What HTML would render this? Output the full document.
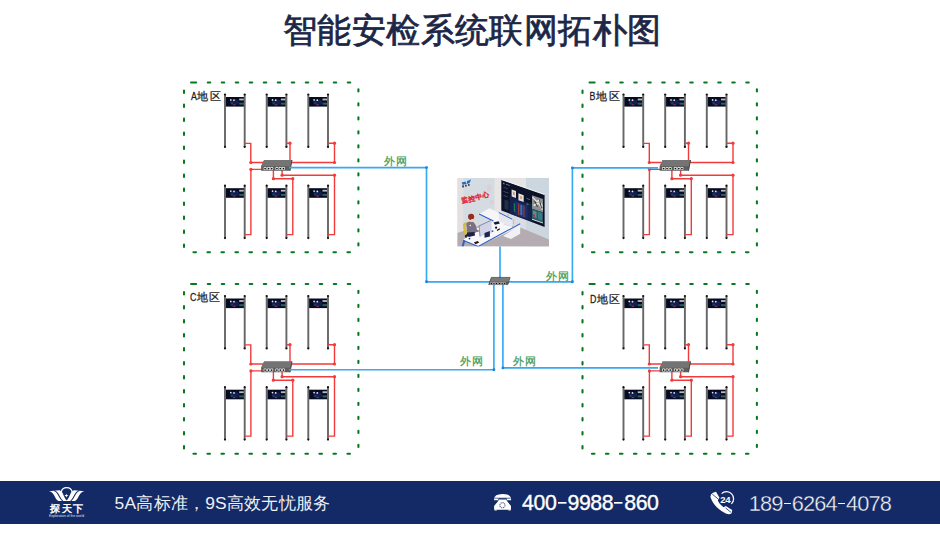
<!DOCTYPE html>
<html><head><meta charset="utf-8">
<style>
html,body{margin:0;padding:0;}
body{width:940px;height:537px;overflow:hidden;background:#fff;position:relative;font-family:"Liberation Sans",sans-serif;}
.title{position:absolute;left:2.2px;width:940px;top:5.7px;text-align:center;font-size:34px;font-weight:normal;-webkit-text-stroke:0.75px #1c2747;color:#1c2747;letter-spacing:0.4px;line-height:48px;}
svg{position:absolute;left:0;top:0;}
.zl{font-size:11px;fill:#1a1a1a;stroke:#1a1a1a;stroke-width:0.25px;font-family:"Liberation Sans",sans-serif;}
.ww{font-size:11px;fill:#3c9852;stroke:#3c9852;stroke-width:0.2px;font-family:"Liberation Sans",sans-serif;}
.foot{position:absolute;left:0;top:481px;width:940px;height:42.5px;background:#132a66;}
.slogan{position:absolute;left:114.6px;top:491.4px;font-size:17.4px;letter-spacing:0.22px;color:#eef0f5;line-height:24px;white-space:nowrap;}
.ph1{position:absolute;left:522.1px;top:491px;font-size:21.3px;letter-spacing:-0.4px;color:#fff;line-height:24px;-webkit-text-stroke:0.35px #fff;white-space:nowrap;}
.ph2{position:absolute;left:748.8px;top:491.6px;font-size:21.8px;letter-spacing:-0.87px;-webkit-text-stroke:0.35px #132a66;color:#f2f3f7;line-height:24px;white-space:nowrap;}
.d{display:inline-block;width:11px;height:24px;vertical-align:top;background:linear-gradient(#fff,#fff) no-repeat center 11.4px/8.5px 1.7px;}
.d2{display:inline-block;width:9.2px;height:24px;vertical-align:top;background:linear-gradient(#f2f3f7,#f2f3f7) no-repeat center 11.6px/7px 1.2px;}
</style></head><body>
<div class="title">智能安检系统联网拓朴图</div>
<svg width="940" height="537" viewBox="0 0 940 537">
<path d="M191.05 82.5H196.15M207.75 82.5H210.25M221.75 82.5H224.25M235.75 82.5H238.25M249.75 82.5H252.25M263.75 82.5H266.25M277.75 82.5H280.25M291.75 82.5H294.25M305.75 82.5H308.25M319.75 82.5H322.25M333.75 82.5H336.25M347.75 82.5H350.25M184 90.65V92.95M184 104.65V106.95M184 118.65V120.95M184 132.65V134.95M184 146.65V148.95M184 160.65V162.95M184 174.65V176.95M184 188.65V190.95M184 202.65V204.95M184 216.65V218.95M184 230.65V232.95M184 244.65V246.95M358.4 89.25V91.55M358.4 103.25V105.55M358.4 117.25V119.55M358.4 131.25V133.55M358.4 145.25V147.55M358.4 159.25V161.55M358.4 173.25V175.55M358.4 187.25V189.55M358.4 201.25V203.55M358.4 215.25V217.55M358.4 229.25V231.55M358.4 243.25V245.55M193.45 252.3H195.95M207.45 252.3H209.95M221.45 252.3H223.95M235.45 252.3H237.95M249.45 252.3H251.95M263.45 252.3H265.95M277.45 252.3H279.95M291.45 252.3H293.95M305.45 252.3H307.95M319.45 252.3H321.95M333.45 252.3H335.95M347.45 252.3H349.95" stroke="#077a1e" stroke-width="2.1" fill="none" stroke-linecap="round"/>
<text transform="translate(191.00,99.60) scale(0.8,1)" class="zl">A</text>
<text x="197.40" y="99.60" class="zl">地</text>
<text x="210.00" y="99.60" class="zl">区</text>
<rect x="225.6" y="97.0" width="18.49999999999999" height="9.6" fill="#070b22"/><ellipse cx="234.5" cy="102.3" rx="4.5" ry="3" fill="#1a3585" opacity="0.5"/><rect x="239.2" y="98.6" width="4.6" height="1.8" fill="#d8dcd8" opacity="0.85"/><rect x="239.2" y="102.7" width="4.6" height="2" fill="#2f6a62" opacity="0.9"/><rect x="231" y="102.3" width="2" height="2" fill="#1f5a5a" opacity="0.6"/><circle cx="230.8" cy="99.89999999999999" r="0.85" fill="#f6e6cc"/><circle cx="234" cy="100.2" r="0.85" fill="#f6e6cc"/><rect x="233.2" y="104.3" width="2.2" height="1.1" fill="#b02436"/><path d="M225 94.3V146.9M244.7 94.3V146.9" stroke="#666" stroke-width="1.9"/><circle cx="225" cy="94.5" r="1.1" fill="#111"/><circle cx="244.7" cy="94.5" r="1.1" fill="#111"/><circle cx="225" cy="146.9" r="1.1" fill="#111"/><circle cx="244.7" cy="146.9" r="1.1" fill="#111"/>
<rect x="267.3" y="97.0" width="18.49999999999999" height="9.6" fill="#070b22"/><ellipse cx="276.2" cy="102.3" rx="4.5" ry="3" fill="#1a3585" opacity="0.5"/><rect x="280.9" y="98.6" width="4.6" height="1.8" fill="#d8dcd8" opacity="0.85"/><rect x="280.9" y="102.7" width="4.6" height="2" fill="#2f6a62" opacity="0.9"/><rect x="272.7" y="102.3" width="2" height="2" fill="#1f5a5a" opacity="0.6"/><circle cx="272.5" cy="99.89999999999999" r="0.85" fill="#f6e6cc"/><circle cx="275.7" cy="100.2" r="0.85" fill="#f6e6cc"/><rect x="274.9" y="104.3" width="2.2" height="1.1" fill="#b02436"/><path d="M266.7 94.3V146.9M286.4 94.3V146.9" stroke="#666" stroke-width="1.9"/><circle cx="266.7" cy="94.5" r="1.1" fill="#111"/><circle cx="286.4" cy="94.5" r="1.1" fill="#111"/><circle cx="266.7" cy="146.9" r="1.1" fill="#111"/><circle cx="286.4" cy="146.9" r="1.1" fill="#111"/>
<rect x="308.90000000000003" y="97.0" width="18.49999999999999" height="9.6" fill="#070b22"/><ellipse cx="317.8" cy="102.3" rx="4.5" ry="3" fill="#1a3585" opacity="0.5"/><rect x="322.5" y="98.6" width="4.6" height="1.8" fill="#d8dcd8" opacity="0.85"/><rect x="322.5" y="102.7" width="4.6" height="2" fill="#2f6a62" opacity="0.9"/><rect x="314.3" y="102.3" width="2" height="2" fill="#1f5a5a" opacity="0.6"/><circle cx="314.1" cy="99.89999999999999" r="0.85" fill="#f6e6cc"/><circle cx="317.3" cy="100.2" r="0.85" fill="#f6e6cc"/><rect x="316.5" y="104.3" width="2.2" height="1.1" fill="#b02436"/><path d="M308.3 94.3V146.9M328.0 94.3V146.9" stroke="#666" stroke-width="1.9"/><circle cx="308.3" cy="94.5" r="1.1" fill="#111"/><circle cx="328.0" cy="94.5" r="1.1" fill="#111"/><circle cx="308.3" cy="146.9" r="1.1" fill="#111"/><circle cx="328.0" cy="146.9" r="1.1" fill="#111"/>
<rect x="225.6" y="188.2" width="18.49999999999999" height="9.6" fill="#070b22"/><ellipse cx="234.5" cy="193.5" rx="4.5" ry="3" fill="#1a3585" opacity="0.5"/><rect x="239.2" y="189.8" width="4.6" height="1.8" fill="#d8dcd8" opacity="0.85"/><rect x="239.2" y="193.9" width="4.6" height="2" fill="#2f6a62" opacity="0.9"/><rect x="231" y="193.5" width="2" height="2" fill="#1f5a5a" opacity="0.6"/><circle cx="230.8" cy="191.1" r="0.85" fill="#f6e6cc"/><circle cx="234" cy="191.4" r="0.85" fill="#f6e6cc"/><rect x="233.2" y="195.5" width="2.2" height="1.1" fill="#b02436"/><path d="M225 185.5V238.1M244.7 185.5V238.1" stroke="#666" stroke-width="1.9"/><circle cx="225" cy="185.7" r="1.1" fill="#111"/><circle cx="244.7" cy="185.7" r="1.1" fill="#111"/><circle cx="225" cy="238.1" r="1.1" fill="#111"/><circle cx="244.7" cy="238.1" r="1.1" fill="#111"/>
<rect x="267.3" y="188.2" width="18.49999999999999" height="9.6" fill="#070b22"/><ellipse cx="276.2" cy="193.5" rx="4.5" ry="3" fill="#1a3585" opacity="0.5"/><rect x="280.9" y="189.8" width="4.6" height="1.8" fill="#d8dcd8" opacity="0.85"/><rect x="280.9" y="193.9" width="4.6" height="2" fill="#2f6a62" opacity="0.9"/><rect x="272.7" y="193.5" width="2" height="2" fill="#1f5a5a" opacity="0.6"/><circle cx="272.5" cy="191.1" r="0.85" fill="#f6e6cc"/><circle cx="275.7" cy="191.4" r="0.85" fill="#f6e6cc"/><rect x="274.9" y="195.5" width="2.2" height="1.1" fill="#b02436"/><path d="M266.7 185.5V238.1M286.4 185.5V238.1" stroke="#666" stroke-width="1.9"/><circle cx="266.7" cy="185.7" r="1.1" fill="#111"/><circle cx="286.4" cy="185.7" r="1.1" fill="#111"/><circle cx="266.7" cy="238.1" r="1.1" fill="#111"/><circle cx="286.4" cy="238.1" r="1.1" fill="#111"/>
<rect x="308.90000000000003" y="188.2" width="18.49999999999999" height="9.6" fill="#070b22"/><ellipse cx="317.8" cy="193.5" rx="4.5" ry="3" fill="#1a3585" opacity="0.5"/><rect x="322.5" y="189.8" width="4.6" height="1.8" fill="#d8dcd8" opacity="0.85"/><rect x="322.5" y="193.9" width="4.6" height="2" fill="#2f6a62" opacity="0.9"/><rect x="314.3" y="193.5" width="2" height="2" fill="#1f5a5a" opacity="0.6"/><circle cx="314.1" cy="191.1" r="0.85" fill="#f6e6cc"/><circle cx="317.3" cy="191.4" r="0.85" fill="#f6e6cc"/><rect x="316.5" y="195.5" width="2.2" height="1.1" fill="#b02436"/><path d="M308.3 185.5V238.1M328.0 185.5V238.1" stroke="#666" stroke-width="1.9"/><circle cx="308.3" cy="185.7" r="1.1" fill="#111"/><circle cx="328.0" cy="185.7" r="1.1" fill="#111"/><circle cx="308.3" cy="238.1" r="1.1" fill="#111"/><circle cx="328.0" cy="238.1" r="1.1" fill="#111"/>
<polyline points="244.8,143.4 250.8,143.4 250.8,162.5 263,162.5" stroke="#f23a3a" stroke-width="1.4" fill="none"/>
<polyline points="286.5,143.2 290,143.2 290,160.5" stroke="#f23a3a" stroke-width="1.4" fill="none"/>
<polyline points="328.1,143.2 334.5,143.2 334.5,162.5 291,162.5" stroke="#f23a3a" stroke-width="1.4" fill="none"/>
<polyline points="262,169.4 250.9,169.4 250.9,234.6 244.8,234.6" stroke="#f23a3a" stroke-width="1.4" fill="none"/>
<polyline points="273.4,170 273.4,178.7 292.8,178.7 292.8,234.6 286.5,234.6" stroke="#f23a3a" stroke-width="1.4" fill="none"/>
<polyline points="282.1,170 282.1,175.2 334.5,175.2 334.5,234.6 328.1,234.6" stroke="#f23a3a" stroke-width="1.4" fill="none"/>
<circle cx="250.8" cy="162.5" r="1.6" fill="#f23a3a"/>
<circle cx="290" cy="143.2" r="1.6" fill="#f23a3a"/>
<circle cx="334.5" cy="143.2" r="1.6" fill="#f23a3a"/>
<circle cx="334.5" cy="162.5" r="1.6" fill="#f23a3a"/>
<circle cx="250.9" cy="169.4" r="1.6" fill="#f23a3a"/>
<circle cx="273.4" cy="178.7" r="1.6" fill="#f23a3a"/>
<circle cx="292.8" cy="178.7" r="1.6" fill="#f23a3a"/>
<circle cx="282.1" cy="175.2" r="1.6" fill="#f23a3a"/>
<circle cx="334.5" cy="175.2" r="1.6" fill="#f23a3a"/>
<path d="M264.1 160H292.0L290.0 170.8H261.1V166Z" fill="#5e5e5e"/><path d="M264.1 160H292.0L290.6 166.2H261.40000000000003Z" fill="#747474"/><path d="M292.0 160L290.0 170.8" stroke="#454545" stroke-width="1"/><rect x="263.6" y="167.1" width="3" height="2.8" rx="0.9" fill="#ececec"/><circle cx="265.1" cy="168.6" r="0.85" fill="#111"/><rect x="267.1" y="167.1" width="3" height="2.8" rx="0.9" fill="#ececec"/><circle cx="268.6" cy="168.6" r="0.85" fill="#111"/><rect x="270.2" y="167.1" width="3" height="2.8" rx="0.9" fill="#ececec"/><circle cx="271.7" cy="168.6" r="0.85" fill="#111"/><rect x="275.40000000000003" y="167.1" width="3" height="2.8" rx="0.9" fill="#ececec"/><circle cx="276.90000000000003" cy="168.6" r="0.85" fill="#111"/><rect x="278.8" y="167.1" width="3" height="2.8" rx="0.9" fill="#ececec"/><circle cx="280.3" cy="168.6" r="0.85" fill="#111"/><rect x="281.90000000000003" y="167.1" width="3" height="2.8" rx="0.9" fill="#ececec"/><circle cx="283.40000000000003" cy="168.6" r="0.85" fill="#111"/>
<path d="M589.55 82.5H594.65M606.25 82.5H608.75M620.25 82.5H622.75M634.25 82.5H636.75M648.25 82.5H650.75M662.25 82.5H664.75M676.25 82.5H678.75M690.25 82.5H692.75M704.25 82.5H706.75M718.25 82.5H720.75M732.25 82.5H734.75M746.25 82.5H748.75M582.5 90.65V92.95M582.5 104.65V106.95M582.5 118.65V120.95M582.5 132.65V134.95M582.5 146.65V148.95M582.5 160.65V162.95M582.5 174.65V176.95M582.5 188.65V190.95M582.5 202.65V204.95M582.5 216.65V218.95M582.5 230.65V232.95M582.5 244.65V246.95M756.9 89.25V91.55M756.9 103.25V105.55M756.9 117.25V119.55M756.9 131.25V133.55M756.9 145.25V147.55M756.9 159.25V161.55M756.9 173.25V175.55M756.9 187.25V189.55M756.9 201.25V203.55M756.9 215.25V217.55M756.9 229.25V231.55M756.9 243.25V245.55M591.95 252.3H594.45M605.95 252.3H608.45M619.95 252.3H622.45M633.95 252.3H636.45M647.95 252.3H650.45M661.95 252.3H664.45M675.95 252.3H678.45M689.95 252.3H692.45M703.95 252.3H706.45M717.95 252.3H720.45M731.95 252.3H734.45M745.95 252.3H748.45" stroke="#077a1e" stroke-width="2.1" fill="none" stroke-linecap="round"/>
<text transform="translate(589.50,99.60) scale(0.8,1)" class="zl">B</text>
<text x="595.90" y="99.60" class="zl">地</text>
<text x="608.50" y="99.60" class="zl">区</text>
<rect x="624.1" y="97.0" width="18.500000000000046" height="9.6" fill="#070b22"/><ellipse cx="633.0" cy="102.3" rx="4.5" ry="3" fill="#1a3585" opacity="0.5"/><rect x="637.7" y="98.6" width="4.6" height="1.8" fill="#d8dcd8" opacity="0.85"/><rect x="637.7" y="102.7" width="4.6" height="2" fill="#2f6a62" opacity="0.9"/><rect x="629.5" y="102.3" width="2" height="2" fill="#1f5a5a" opacity="0.6"/><circle cx="629.3" cy="99.89999999999999" r="0.85" fill="#f6e6cc"/><circle cx="632.5" cy="100.2" r="0.85" fill="#f6e6cc"/><rect x="631.7" y="104.3" width="2.2" height="1.1" fill="#b02436"/><path d="M623.5 94.3V146.9M643.2 94.3V146.9" stroke="#666" stroke-width="1.9"/><circle cx="623.5" cy="94.5" r="1.1" fill="#111"/><circle cx="643.2" cy="94.5" r="1.1" fill="#111"/><circle cx="623.5" cy="146.9" r="1.1" fill="#111"/><circle cx="643.2" cy="146.9" r="1.1" fill="#111"/>
<rect x="665.8000000000001" y="97.0" width="18.500000000000046" height="9.6" fill="#070b22"/><ellipse cx="674.7" cy="102.3" rx="4.5" ry="3" fill="#1a3585" opacity="0.5"/><rect x="679.4000000000001" y="98.6" width="4.6" height="1.8" fill="#d8dcd8" opacity="0.85"/><rect x="679.4000000000001" y="102.7" width="4.6" height="2" fill="#2f6a62" opacity="0.9"/><rect x="671.2" y="102.3" width="2" height="2" fill="#1f5a5a" opacity="0.6"/><circle cx="671.0" cy="99.89999999999999" r="0.85" fill="#f6e6cc"/><circle cx="674.2" cy="100.2" r="0.85" fill="#f6e6cc"/><rect x="673.4000000000001" y="104.3" width="2.2" height="1.1" fill="#b02436"/><path d="M665.2 94.3V146.9M684.9000000000001 94.3V146.9" stroke="#666" stroke-width="1.9"/><circle cx="665.2" cy="94.5" r="1.1" fill="#111"/><circle cx="684.9000000000001" cy="94.5" r="1.1" fill="#111"/><circle cx="665.2" cy="146.9" r="1.1" fill="#111"/><circle cx="684.9000000000001" cy="146.9" r="1.1" fill="#111"/>
<rect x="707.4" y="97.0" width="18.500000000000046" height="9.6" fill="#070b22"/><ellipse cx="716.3" cy="102.3" rx="4.5" ry="3" fill="#1a3585" opacity="0.5"/><rect x="721.0" y="98.6" width="4.6" height="1.8" fill="#d8dcd8" opacity="0.85"/><rect x="721.0" y="102.7" width="4.6" height="2" fill="#2f6a62" opacity="0.9"/><rect x="712.8" y="102.3" width="2" height="2" fill="#1f5a5a" opacity="0.6"/><circle cx="712.5999999999999" cy="99.89999999999999" r="0.85" fill="#f6e6cc"/><circle cx="715.8" cy="100.2" r="0.85" fill="#f6e6cc"/><rect x="715.0" y="104.3" width="2.2" height="1.1" fill="#b02436"/><path d="M706.8 94.3V146.9M726.5 94.3V146.9" stroke="#666" stroke-width="1.9"/><circle cx="706.8" cy="94.5" r="1.1" fill="#111"/><circle cx="726.5" cy="94.5" r="1.1" fill="#111"/><circle cx="706.8" cy="146.9" r="1.1" fill="#111"/><circle cx="726.5" cy="146.9" r="1.1" fill="#111"/>
<rect x="624.1" y="188.2" width="18.500000000000046" height="9.6" fill="#070b22"/><ellipse cx="633.0" cy="193.5" rx="4.5" ry="3" fill="#1a3585" opacity="0.5"/><rect x="637.7" y="189.8" width="4.6" height="1.8" fill="#d8dcd8" opacity="0.85"/><rect x="637.7" y="193.9" width="4.6" height="2" fill="#2f6a62" opacity="0.9"/><rect x="629.5" y="193.5" width="2" height="2" fill="#1f5a5a" opacity="0.6"/><circle cx="629.3" cy="191.1" r="0.85" fill="#f6e6cc"/><circle cx="632.5" cy="191.4" r="0.85" fill="#f6e6cc"/><rect x="631.7" y="195.5" width="2.2" height="1.1" fill="#b02436"/><path d="M623.5 185.5V238.1M643.2 185.5V238.1" stroke="#666" stroke-width="1.9"/><circle cx="623.5" cy="185.7" r="1.1" fill="#111"/><circle cx="643.2" cy="185.7" r="1.1" fill="#111"/><circle cx="623.5" cy="238.1" r="1.1" fill="#111"/><circle cx="643.2" cy="238.1" r="1.1" fill="#111"/>
<rect x="665.8000000000001" y="188.2" width="18.500000000000046" height="9.6" fill="#070b22"/><ellipse cx="674.7" cy="193.5" rx="4.5" ry="3" fill="#1a3585" opacity="0.5"/><rect x="679.4000000000001" y="189.8" width="4.6" height="1.8" fill="#d8dcd8" opacity="0.85"/><rect x="679.4000000000001" y="193.9" width="4.6" height="2" fill="#2f6a62" opacity="0.9"/><rect x="671.2" y="193.5" width="2" height="2" fill="#1f5a5a" opacity="0.6"/><circle cx="671.0" cy="191.1" r="0.85" fill="#f6e6cc"/><circle cx="674.2" cy="191.4" r="0.85" fill="#f6e6cc"/><rect x="673.4000000000001" y="195.5" width="2.2" height="1.1" fill="#b02436"/><path d="M665.2 185.5V238.1M684.9000000000001 185.5V238.1" stroke="#666" stroke-width="1.9"/><circle cx="665.2" cy="185.7" r="1.1" fill="#111"/><circle cx="684.9000000000001" cy="185.7" r="1.1" fill="#111"/><circle cx="665.2" cy="238.1" r="1.1" fill="#111"/><circle cx="684.9000000000001" cy="238.1" r="1.1" fill="#111"/>
<rect x="707.4" y="188.2" width="18.500000000000046" height="9.6" fill="#070b22"/><ellipse cx="716.3" cy="193.5" rx="4.5" ry="3" fill="#1a3585" opacity="0.5"/><rect x="721.0" y="189.8" width="4.6" height="1.8" fill="#d8dcd8" opacity="0.85"/><rect x="721.0" y="193.9" width="4.6" height="2" fill="#2f6a62" opacity="0.9"/><rect x="712.8" y="193.5" width="2" height="2" fill="#1f5a5a" opacity="0.6"/><circle cx="712.5999999999999" cy="191.1" r="0.85" fill="#f6e6cc"/><circle cx="715.8" cy="191.4" r="0.85" fill="#f6e6cc"/><rect x="715.0" y="195.5" width="2.2" height="1.1" fill="#b02436"/><path d="M706.8 185.5V238.1M726.5 185.5V238.1" stroke="#666" stroke-width="1.9"/><circle cx="706.8" cy="185.7" r="1.1" fill="#111"/><circle cx="726.5" cy="185.7" r="1.1" fill="#111"/><circle cx="706.8" cy="238.1" r="1.1" fill="#111"/><circle cx="726.5" cy="238.1" r="1.1" fill="#111"/>
<polyline points="643.3,143.4 649.3,143.4 649.3,162.5 661.5,162.5" stroke="#f23a3a" stroke-width="1.4" fill="none"/>
<polyline points="685.0,143.2 688.5,143.2 688.5,160.5" stroke="#f23a3a" stroke-width="1.4" fill="none"/>
<polyline points="726.6,143.2 733.0,143.2 733.0,162.5 689.5,162.5" stroke="#f23a3a" stroke-width="1.4" fill="none"/>
<polyline points="660.5,169.4 649.4,169.4 649.4,234.6 643.3,234.6" stroke="#f23a3a" stroke-width="1.4" fill="none"/>
<polyline points="671.9,170 671.9,178.7 691.3,178.7 691.3,234.6 685.0,234.6" stroke="#f23a3a" stroke-width="1.4" fill="none"/>
<polyline points="680.6,170 680.6,175.2 733.0,175.2 733.0,234.6 726.6,234.6" stroke="#f23a3a" stroke-width="1.4" fill="none"/>
<circle cx="649.3" cy="162.5" r="1.6" fill="#f23a3a"/>
<circle cx="688.5" cy="143.2" r="1.6" fill="#f23a3a"/>
<circle cx="733.0" cy="143.2" r="1.6" fill="#f23a3a"/>
<circle cx="733.0" cy="162.5" r="1.6" fill="#f23a3a"/>
<circle cx="649.4" cy="169.4" r="1.6" fill="#f23a3a"/>
<circle cx="671.9" cy="178.7" r="1.6" fill="#f23a3a"/>
<circle cx="691.3" cy="178.7" r="1.6" fill="#f23a3a"/>
<circle cx="680.6" cy="175.2" r="1.6" fill="#f23a3a"/>
<circle cx="733.0" cy="175.2" r="1.6" fill="#f23a3a"/>
<path d="M662.5999999999999 160H690.5L688.5 170.8H659.5999999999999V166Z" fill="#5e5e5e"/><path d="M662.5999999999999 160H690.5L689.0999999999999 166.2H659.9Z" fill="#747474"/><path d="M690.5 160L688.5 170.8" stroke="#454545" stroke-width="1"/><rect x="662.0999999999999" y="167.1" width="3" height="2.8" rx="0.9" fill="#ececec"/><circle cx="663.5999999999999" cy="168.6" r="0.85" fill="#111"/><rect x="665.5999999999999" y="167.1" width="3" height="2.8" rx="0.9" fill="#ececec"/><circle cx="667.0999999999999" cy="168.6" r="0.85" fill="#111"/><rect x="668.6999999999999" y="167.1" width="3" height="2.8" rx="0.9" fill="#ececec"/><circle cx="670.1999999999999" cy="168.6" r="0.85" fill="#111"/><rect x="673.9" y="167.1" width="3" height="2.8" rx="0.9" fill="#ececec"/><circle cx="675.4" cy="168.6" r="0.85" fill="#111"/><rect x="677.3" y="167.1" width="3" height="2.8" rx="0.9" fill="#ececec"/><circle cx="678.8" cy="168.6" r="0.85" fill="#111"/><rect x="680.4" y="167.1" width="3" height="2.8" rx="0.9" fill="#ececec"/><circle cx="681.9" cy="168.6" r="0.85" fill="#111"/>
<path d="M191.05 284.0H196.15M207.75 284.0H210.25M221.75 284.0H224.25M235.75 284.0H238.25M249.75 284.0H252.25M263.75 284.0H266.25M277.75 284.0H280.25M291.75 284.0H294.25M305.75 284.0H308.25M319.75 284.0H322.25M333.75 284.0H336.25M347.75 284.0H350.25M184 292.15V294.45M184 306.15V308.45M184 320.15V322.45M184 334.15V336.45M184 348.15V350.45M184 362.15V364.45M184 376.15V378.45M184 390.15V392.45M184 404.15V406.45M184 418.15V420.45M184 432.15V434.45M184 446.15V448.45M358.4 290.75V293.05M358.4 304.75V307.05M358.4 318.75V321.05M358.4 332.75V335.05M358.4 346.75V349.05M358.4 360.75V363.05M358.4 374.75V377.05M358.4 388.75V391.05M358.4 402.75V405.05M358.4 416.75V419.05M358.4 430.75V433.05M358.4 444.75V447.05M193.45 453.8H195.95M207.45 453.8H209.95M221.45 453.8H223.95M235.45 453.8H237.95M249.45 453.8H251.95M263.45 453.8H265.95M277.45 453.8H279.95M291.45 453.8H293.95M305.45 453.8H307.95M319.45 453.8H321.95M333.45 453.8H335.95M347.45 453.8H349.95" stroke="#077a1e" stroke-width="2.1" fill="none" stroke-linecap="round"/>
<text transform="translate(190.10,300.80) scale(0.8,1)" class="zl">C</text>
<text x="196.50" y="300.80" class="zl">地</text>
<text x="209.10" y="300.80" class="zl">区</text>
<rect x="225.6" y="298.5" width="18.49999999999999" height="9.6" fill="#070b22"/><ellipse cx="234.5" cy="303.8" rx="4.5" ry="3" fill="#1a3585" opacity="0.5"/><rect x="239.2" y="300.1" width="4.6" height="1.8" fill="#d8dcd8" opacity="0.85"/><rect x="239.2" y="304.2" width="4.6" height="2" fill="#2f6a62" opacity="0.9"/><rect x="231" y="303.8" width="2" height="2" fill="#1f5a5a" opacity="0.6"/><circle cx="230.8" cy="301.40000000000003" r="0.85" fill="#f6e6cc"/><circle cx="234" cy="301.7" r="0.85" fill="#f6e6cc"/><rect x="233.2" y="305.8" width="2.2" height="1.1" fill="#b02436"/><path d="M225 295.8V348.40000000000003M244.7 295.8V348.40000000000003" stroke="#666" stroke-width="1.9"/><circle cx="225" cy="296.0" r="1.1" fill="#111"/><circle cx="244.7" cy="296.0" r="1.1" fill="#111"/><circle cx="225" cy="348.40000000000003" r="1.1" fill="#111"/><circle cx="244.7" cy="348.40000000000003" r="1.1" fill="#111"/>
<rect x="267.3" y="298.5" width="18.49999999999999" height="9.6" fill="#070b22"/><ellipse cx="276.2" cy="303.8" rx="4.5" ry="3" fill="#1a3585" opacity="0.5"/><rect x="280.9" y="300.1" width="4.6" height="1.8" fill="#d8dcd8" opacity="0.85"/><rect x="280.9" y="304.2" width="4.6" height="2" fill="#2f6a62" opacity="0.9"/><rect x="272.7" y="303.8" width="2" height="2" fill="#1f5a5a" opacity="0.6"/><circle cx="272.5" cy="301.40000000000003" r="0.85" fill="#f6e6cc"/><circle cx="275.7" cy="301.7" r="0.85" fill="#f6e6cc"/><rect x="274.9" y="305.8" width="2.2" height="1.1" fill="#b02436"/><path d="M266.7 295.8V348.40000000000003M286.4 295.8V348.40000000000003" stroke="#666" stroke-width="1.9"/><circle cx="266.7" cy="296.0" r="1.1" fill="#111"/><circle cx="286.4" cy="296.0" r="1.1" fill="#111"/><circle cx="266.7" cy="348.40000000000003" r="1.1" fill="#111"/><circle cx="286.4" cy="348.40000000000003" r="1.1" fill="#111"/>
<rect x="308.90000000000003" y="298.5" width="18.49999999999999" height="9.6" fill="#070b22"/><ellipse cx="317.8" cy="303.8" rx="4.5" ry="3" fill="#1a3585" opacity="0.5"/><rect x="322.5" y="300.1" width="4.6" height="1.8" fill="#d8dcd8" opacity="0.85"/><rect x="322.5" y="304.2" width="4.6" height="2" fill="#2f6a62" opacity="0.9"/><rect x="314.3" y="303.8" width="2" height="2" fill="#1f5a5a" opacity="0.6"/><circle cx="314.1" cy="301.40000000000003" r="0.85" fill="#f6e6cc"/><circle cx="317.3" cy="301.7" r="0.85" fill="#f6e6cc"/><rect x="316.5" y="305.8" width="2.2" height="1.1" fill="#b02436"/><path d="M308.3 295.8V348.40000000000003M328.0 295.8V348.40000000000003" stroke="#666" stroke-width="1.9"/><circle cx="308.3" cy="296.0" r="1.1" fill="#111"/><circle cx="328.0" cy="296.0" r="1.1" fill="#111"/><circle cx="308.3" cy="348.40000000000003" r="1.1" fill="#111"/><circle cx="328.0" cy="348.40000000000003" r="1.1" fill="#111"/>
<rect x="225.6" y="389.7" width="18.49999999999999" height="9.6" fill="#070b22"/><ellipse cx="234.5" cy="395.0" rx="4.5" ry="3" fill="#1a3585" opacity="0.5"/><rect x="239.2" y="391.3" width="4.6" height="1.8" fill="#d8dcd8" opacity="0.85"/><rect x="239.2" y="395.4" width="4.6" height="2" fill="#2f6a62" opacity="0.9"/><rect x="231" y="395.0" width="2" height="2" fill="#1f5a5a" opacity="0.6"/><circle cx="230.8" cy="392.6" r="0.85" fill="#f6e6cc"/><circle cx="234" cy="392.9" r="0.85" fill="#f6e6cc"/><rect x="233.2" y="397.0" width="2.2" height="1.1" fill="#b02436"/><path d="M225 387.0V439.6M244.7 387.0V439.6" stroke="#666" stroke-width="1.9"/><circle cx="225" cy="387.2" r="1.1" fill="#111"/><circle cx="244.7" cy="387.2" r="1.1" fill="#111"/><circle cx="225" cy="439.6" r="1.1" fill="#111"/><circle cx="244.7" cy="439.6" r="1.1" fill="#111"/>
<rect x="267.3" y="389.7" width="18.49999999999999" height="9.6" fill="#070b22"/><ellipse cx="276.2" cy="395.0" rx="4.5" ry="3" fill="#1a3585" opacity="0.5"/><rect x="280.9" y="391.3" width="4.6" height="1.8" fill="#d8dcd8" opacity="0.85"/><rect x="280.9" y="395.4" width="4.6" height="2" fill="#2f6a62" opacity="0.9"/><rect x="272.7" y="395.0" width="2" height="2" fill="#1f5a5a" opacity="0.6"/><circle cx="272.5" cy="392.6" r="0.85" fill="#f6e6cc"/><circle cx="275.7" cy="392.9" r="0.85" fill="#f6e6cc"/><rect x="274.9" y="397.0" width="2.2" height="1.1" fill="#b02436"/><path d="M266.7 387.0V439.6M286.4 387.0V439.6" stroke="#666" stroke-width="1.9"/><circle cx="266.7" cy="387.2" r="1.1" fill="#111"/><circle cx="286.4" cy="387.2" r="1.1" fill="#111"/><circle cx="266.7" cy="439.6" r="1.1" fill="#111"/><circle cx="286.4" cy="439.6" r="1.1" fill="#111"/>
<rect x="308.90000000000003" y="389.7" width="18.49999999999999" height="9.6" fill="#070b22"/><ellipse cx="317.8" cy="395.0" rx="4.5" ry="3" fill="#1a3585" opacity="0.5"/><rect x="322.5" y="391.3" width="4.6" height="1.8" fill="#d8dcd8" opacity="0.85"/><rect x="322.5" y="395.4" width="4.6" height="2" fill="#2f6a62" opacity="0.9"/><rect x="314.3" y="395.0" width="2" height="2" fill="#1f5a5a" opacity="0.6"/><circle cx="314.1" cy="392.6" r="0.85" fill="#f6e6cc"/><circle cx="317.3" cy="392.9" r="0.85" fill="#f6e6cc"/><rect x="316.5" y="397.0" width="2.2" height="1.1" fill="#b02436"/><path d="M308.3 387.0V439.6M328.0 387.0V439.6" stroke="#666" stroke-width="1.9"/><circle cx="308.3" cy="387.2" r="1.1" fill="#111"/><circle cx="328.0" cy="387.2" r="1.1" fill="#111"/><circle cx="308.3" cy="439.6" r="1.1" fill="#111"/><circle cx="328.0" cy="439.6" r="1.1" fill="#111"/>
<polyline points="244.8,344.9 250.8,344.9 250.8,364.0 263,364.0" stroke="#f23a3a" stroke-width="1.4" fill="none"/>
<polyline points="286.5,344.7 290,344.7 290,362.0" stroke="#f23a3a" stroke-width="1.4" fill="none"/>
<polyline points="328.1,344.7 334.5,344.7 334.5,364.0 291,364.0" stroke="#f23a3a" stroke-width="1.4" fill="none"/>
<polyline points="262,370.9 250.9,370.9 250.9,436.1 244.8,436.1" stroke="#f23a3a" stroke-width="1.4" fill="none"/>
<polyline points="273.4,371.5 273.4,380.2 292.8,380.2 292.8,436.1 286.5,436.1" stroke="#f23a3a" stroke-width="1.4" fill="none"/>
<polyline points="282.1,371.5 282.1,376.7 334.5,376.7 334.5,436.1 328.1,436.1" stroke="#f23a3a" stroke-width="1.4" fill="none"/>
<circle cx="250.8" cy="364.0" r="1.6" fill="#f23a3a"/>
<circle cx="290" cy="344.7" r="1.6" fill="#f23a3a"/>
<circle cx="334.5" cy="344.7" r="1.6" fill="#f23a3a"/>
<circle cx="334.5" cy="364.0" r="1.6" fill="#f23a3a"/>
<circle cx="250.9" cy="370.9" r="1.6" fill="#f23a3a"/>
<circle cx="273.4" cy="380.2" r="1.6" fill="#f23a3a"/>
<circle cx="292.8" cy="380.2" r="1.6" fill="#f23a3a"/>
<circle cx="282.1" cy="376.7" r="1.6" fill="#f23a3a"/>
<circle cx="334.5" cy="376.7" r="1.6" fill="#f23a3a"/>
<path d="M264.1 361.5H292.0L290.0 372.3H261.1V367.5Z" fill="#5e5e5e"/><path d="M264.1 361.5H292.0L290.6 367.7H261.40000000000003Z" fill="#747474"/><path d="M292.0 361.5L290.0 372.3" stroke="#454545" stroke-width="1"/><rect x="263.6" y="368.6" width="3" height="2.8" rx="0.9" fill="#ececec"/><circle cx="265.1" cy="370.1" r="0.85" fill="#111"/><rect x="267.1" y="368.6" width="3" height="2.8" rx="0.9" fill="#ececec"/><circle cx="268.6" cy="370.1" r="0.85" fill="#111"/><rect x="270.2" y="368.6" width="3" height="2.8" rx="0.9" fill="#ececec"/><circle cx="271.7" cy="370.1" r="0.85" fill="#111"/><rect x="275.40000000000003" y="368.6" width="3" height="2.8" rx="0.9" fill="#ececec"/><circle cx="276.90000000000003" cy="370.1" r="0.85" fill="#111"/><rect x="278.8" y="368.6" width="3" height="2.8" rx="0.9" fill="#ececec"/><circle cx="280.3" cy="370.1" r="0.85" fill="#111"/><rect x="281.90000000000003" y="368.6" width="3" height="2.8" rx="0.9" fill="#ececec"/><circle cx="283.40000000000003" cy="370.1" r="0.85" fill="#111"/>
<path d="M589.55 284.0H594.65M606.25 284.0H608.75M620.25 284.0H622.75M634.25 284.0H636.75M648.25 284.0H650.75M662.25 284.0H664.75M676.25 284.0H678.75M690.25 284.0H692.75M704.25 284.0H706.75M718.25 284.0H720.75M732.25 284.0H734.75M746.25 284.0H748.75M582.5 292.15V294.45M582.5 306.15V308.45M582.5 320.15V322.45M582.5 334.15V336.45M582.5 348.15V350.45M582.5 362.15V364.45M582.5 376.15V378.45M582.5 390.15V392.45M582.5 404.15V406.45M582.5 418.15V420.45M582.5 432.15V434.45M582.5 446.15V448.45M756.9 290.75V293.05M756.9 304.75V307.05M756.9 318.75V321.05M756.9 332.75V335.05M756.9 346.75V349.05M756.9 360.75V363.05M756.9 374.75V377.05M756.9 388.75V391.05M756.9 402.75V405.05M756.9 416.75V419.05M756.9 430.75V433.05M756.9 444.75V447.05M591.95 453.8H594.45M605.95 453.8H608.45M619.95 453.8H622.45M633.95 453.8H636.45M647.95 453.8H650.45M661.95 453.8H664.45M675.95 453.8H678.45M689.95 453.8H692.45M703.95 453.8H706.45M717.95 453.8H720.45M731.95 453.8H734.45M745.95 453.8H748.45" stroke="#077a1e" stroke-width="2.1" fill="none" stroke-linecap="round"/>
<text transform="translate(590.10,303.10) scale(0.8,1)" class="zl">D</text>
<text x="596.50" y="303.10" class="zl">地</text>
<text x="609.10" y="303.10" class="zl">区</text>
<rect x="624.1" y="298.5" width="18.500000000000046" height="9.6" fill="#070b22"/><ellipse cx="633.0" cy="303.8" rx="4.5" ry="3" fill="#1a3585" opacity="0.5"/><rect x="637.7" y="300.1" width="4.6" height="1.8" fill="#d8dcd8" opacity="0.85"/><rect x="637.7" y="304.2" width="4.6" height="2" fill="#2f6a62" opacity="0.9"/><rect x="629.5" y="303.8" width="2" height="2" fill="#1f5a5a" opacity="0.6"/><circle cx="629.3" cy="301.40000000000003" r="0.85" fill="#f6e6cc"/><circle cx="632.5" cy="301.7" r="0.85" fill="#f6e6cc"/><rect x="631.7" y="305.8" width="2.2" height="1.1" fill="#b02436"/><path d="M623.5 295.8V348.40000000000003M643.2 295.8V348.40000000000003" stroke="#666" stroke-width="1.9"/><circle cx="623.5" cy="296.0" r="1.1" fill="#111"/><circle cx="643.2" cy="296.0" r="1.1" fill="#111"/><circle cx="623.5" cy="348.40000000000003" r="1.1" fill="#111"/><circle cx="643.2" cy="348.40000000000003" r="1.1" fill="#111"/>
<rect x="665.8000000000001" y="298.5" width="18.500000000000046" height="9.6" fill="#070b22"/><ellipse cx="674.7" cy="303.8" rx="4.5" ry="3" fill="#1a3585" opacity="0.5"/><rect x="679.4000000000001" y="300.1" width="4.6" height="1.8" fill="#d8dcd8" opacity="0.85"/><rect x="679.4000000000001" y="304.2" width="4.6" height="2" fill="#2f6a62" opacity="0.9"/><rect x="671.2" y="303.8" width="2" height="2" fill="#1f5a5a" opacity="0.6"/><circle cx="671.0" cy="301.40000000000003" r="0.85" fill="#f6e6cc"/><circle cx="674.2" cy="301.7" r="0.85" fill="#f6e6cc"/><rect x="673.4000000000001" y="305.8" width="2.2" height="1.1" fill="#b02436"/><path d="M665.2 295.8V348.40000000000003M684.9000000000001 295.8V348.40000000000003" stroke="#666" stroke-width="1.9"/><circle cx="665.2" cy="296.0" r="1.1" fill="#111"/><circle cx="684.9000000000001" cy="296.0" r="1.1" fill="#111"/><circle cx="665.2" cy="348.40000000000003" r="1.1" fill="#111"/><circle cx="684.9000000000001" cy="348.40000000000003" r="1.1" fill="#111"/>
<rect x="707.4" y="298.5" width="18.500000000000046" height="9.6" fill="#070b22"/><ellipse cx="716.3" cy="303.8" rx="4.5" ry="3" fill="#1a3585" opacity="0.5"/><rect x="721.0" y="300.1" width="4.6" height="1.8" fill="#d8dcd8" opacity="0.85"/><rect x="721.0" y="304.2" width="4.6" height="2" fill="#2f6a62" opacity="0.9"/><rect x="712.8" y="303.8" width="2" height="2" fill="#1f5a5a" opacity="0.6"/><circle cx="712.5999999999999" cy="301.40000000000003" r="0.85" fill="#f6e6cc"/><circle cx="715.8" cy="301.7" r="0.85" fill="#f6e6cc"/><rect x="715.0" y="305.8" width="2.2" height="1.1" fill="#b02436"/><path d="M706.8 295.8V348.40000000000003M726.5 295.8V348.40000000000003" stroke="#666" stroke-width="1.9"/><circle cx="706.8" cy="296.0" r="1.1" fill="#111"/><circle cx="726.5" cy="296.0" r="1.1" fill="#111"/><circle cx="706.8" cy="348.40000000000003" r="1.1" fill="#111"/><circle cx="726.5" cy="348.40000000000003" r="1.1" fill="#111"/>
<rect x="624.1" y="389.7" width="18.500000000000046" height="9.6" fill="#070b22"/><ellipse cx="633.0" cy="395.0" rx="4.5" ry="3" fill="#1a3585" opacity="0.5"/><rect x="637.7" y="391.3" width="4.6" height="1.8" fill="#d8dcd8" opacity="0.85"/><rect x="637.7" y="395.4" width="4.6" height="2" fill="#2f6a62" opacity="0.9"/><rect x="629.5" y="395.0" width="2" height="2" fill="#1f5a5a" opacity="0.6"/><circle cx="629.3" cy="392.6" r="0.85" fill="#f6e6cc"/><circle cx="632.5" cy="392.9" r="0.85" fill="#f6e6cc"/><rect x="631.7" y="397.0" width="2.2" height="1.1" fill="#b02436"/><path d="M623.5 387.0V439.6M643.2 387.0V439.6" stroke="#666" stroke-width="1.9"/><circle cx="623.5" cy="387.2" r="1.1" fill="#111"/><circle cx="643.2" cy="387.2" r="1.1" fill="#111"/><circle cx="623.5" cy="439.6" r="1.1" fill="#111"/><circle cx="643.2" cy="439.6" r="1.1" fill="#111"/>
<rect x="665.8000000000001" y="389.7" width="18.500000000000046" height="9.6" fill="#070b22"/><ellipse cx="674.7" cy="395.0" rx="4.5" ry="3" fill="#1a3585" opacity="0.5"/><rect x="679.4000000000001" y="391.3" width="4.6" height="1.8" fill="#d8dcd8" opacity="0.85"/><rect x="679.4000000000001" y="395.4" width="4.6" height="2" fill="#2f6a62" opacity="0.9"/><rect x="671.2" y="395.0" width="2" height="2" fill="#1f5a5a" opacity="0.6"/><circle cx="671.0" cy="392.6" r="0.85" fill="#f6e6cc"/><circle cx="674.2" cy="392.9" r="0.85" fill="#f6e6cc"/><rect x="673.4000000000001" y="397.0" width="2.2" height="1.1" fill="#b02436"/><path d="M665.2 387.0V439.6M684.9000000000001 387.0V439.6" stroke="#666" stroke-width="1.9"/><circle cx="665.2" cy="387.2" r="1.1" fill="#111"/><circle cx="684.9000000000001" cy="387.2" r="1.1" fill="#111"/><circle cx="665.2" cy="439.6" r="1.1" fill="#111"/><circle cx="684.9000000000001" cy="439.6" r="1.1" fill="#111"/>
<rect x="707.4" y="389.7" width="18.500000000000046" height="9.6" fill="#070b22"/><ellipse cx="716.3" cy="395.0" rx="4.5" ry="3" fill="#1a3585" opacity="0.5"/><rect x="721.0" y="391.3" width="4.6" height="1.8" fill="#d8dcd8" opacity="0.85"/><rect x="721.0" y="395.4" width="4.6" height="2" fill="#2f6a62" opacity="0.9"/><rect x="712.8" y="395.0" width="2" height="2" fill="#1f5a5a" opacity="0.6"/><circle cx="712.5999999999999" cy="392.6" r="0.85" fill="#f6e6cc"/><circle cx="715.8" cy="392.9" r="0.85" fill="#f6e6cc"/><rect x="715.0" y="397.0" width="2.2" height="1.1" fill="#b02436"/><path d="M706.8 387.0V439.6M726.5 387.0V439.6" stroke="#666" stroke-width="1.9"/><circle cx="706.8" cy="387.2" r="1.1" fill="#111"/><circle cx="726.5" cy="387.2" r="1.1" fill="#111"/><circle cx="706.8" cy="439.6" r="1.1" fill="#111"/><circle cx="726.5" cy="439.6" r="1.1" fill="#111"/>
<polyline points="643.3,344.9 649.3,344.9 649.3,364.0 661.5,364.0" stroke="#f23a3a" stroke-width="1.4" fill="none"/>
<polyline points="685.0,344.7 688.5,344.7 688.5,362.0" stroke="#f23a3a" stroke-width="1.4" fill="none"/>
<polyline points="726.6,344.7 733.0,344.7 733.0,364.0 689.5,364.0" stroke="#f23a3a" stroke-width="1.4" fill="none"/>
<polyline points="660.5,370.9 649.4,370.9 649.4,436.1 643.3,436.1" stroke="#f23a3a" stroke-width="1.4" fill="none"/>
<polyline points="671.9,371.5 671.9,380.2 691.3,380.2 691.3,436.1 685.0,436.1" stroke="#f23a3a" stroke-width="1.4" fill="none"/>
<polyline points="680.6,371.5 680.6,376.7 733.0,376.7 733.0,436.1 726.6,436.1" stroke="#f23a3a" stroke-width="1.4" fill="none"/>
<circle cx="649.3" cy="364.0" r="1.6" fill="#f23a3a"/>
<circle cx="688.5" cy="344.7" r="1.6" fill="#f23a3a"/>
<circle cx="733.0" cy="344.7" r="1.6" fill="#f23a3a"/>
<circle cx="733.0" cy="364.0" r="1.6" fill="#f23a3a"/>
<circle cx="649.4" cy="370.9" r="1.6" fill="#f23a3a"/>
<circle cx="671.9" cy="380.2" r="1.6" fill="#f23a3a"/>
<circle cx="691.3" cy="380.2" r="1.6" fill="#f23a3a"/>
<circle cx="680.6" cy="376.7" r="1.6" fill="#f23a3a"/>
<circle cx="733.0" cy="376.7" r="1.6" fill="#f23a3a"/>
<path d="M662.5999999999999 361.5H690.5L688.5 372.3H659.5999999999999V367.5Z" fill="#5e5e5e"/><path d="M662.5999999999999 361.5H690.5L689.0999999999999 367.7H659.9Z" fill="#747474"/><path d="M690.5 361.5L688.5 372.3" stroke="#454545" stroke-width="1"/><rect x="662.0999999999999" y="368.6" width="3" height="2.8" rx="0.9" fill="#ececec"/><circle cx="663.5999999999999" cy="370.1" r="0.85" fill="#111"/><rect x="665.5999999999999" y="368.6" width="3" height="2.8" rx="0.9" fill="#ececec"/><circle cx="667.0999999999999" cy="370.1" r="0.85" fill="#111"/><rect x="668.6999999999999" y="368.6" width="3" height="2.8" rx="0.9" fill="#ececec"/><circle cx="670.1999999999999" cy="370.1" r="0.85" fill="#111"/><rect x="673.9" y="368.6" width="3" height="2.8" rx="0.9" fill="#ececec"/><circle cx="675.4" cy="370.1" r="0.85" fill="#111"/><rect x="677.3" y="368.6" width="3" height="2.8" rx="0.9" fill="#ececec"/><circle cx="678.8" cy="370.1" r="0.85" fill="#111"/><rect x="680.4" y="368.6" width="3" height="2.8" rx="0.9" fill="#ececec"/><circle cx="681.9" cy="370.1" r="0.85" fill="#111"/>
<polyline points="289,167.6 426.5,167.6 426.5,281.8 572.4,281.8 572.4,167.9 658,167.9" stroke="#36a9f1" stroke-width="1.65" fill="none"/>
<polyline points="500,246 500,278" stroke="#36a9f1" stroke-width="1.65" fill="none"/>
<polyline points="493.9,284 493.9,369.7 289,369.7" stroke="#36a9f1" stroke-width="1.65" fill="none"/>
<polyline points="502.9,284 502.9,367.9 658,367.9" stroke="#36a9f1" stroke-width="1.65" fill="none"/>
<circle cx="426.5" cy="167.6" r="1.45" fill="#1a84e0"/>
<circle cx="426.5" cy="281.8" r="1.45" fill="#1a84e0"/>
<circle cx="572.4" cy="281.8" r="1.45" fill="#1a84e0"/>
<circle cx="572.4" cy="167.9" r="1.45" fill="#1a84e0"/>
<circle cx="493.9" cy="369.7" r="1.45" fill="#1a84e0"/>
<circle cx="502.9" cy="367.9" r="1.45" fill="#1a84e0"/>
<path d="M491.3 277.4H510.1L507.9 284.59999999999997H488.7Z" fill="#555" stroke="#3a3a3a" stroke-width="0.6"/><path d="M491.5 278.0H509.5L508.5 281.79999999999995H490.2Z" fill="#7a7a7a"/><rect x="490.29999999999995" y="282.4" width="2.2" height="2" fill="#e0e0e0"/><circle cx="491.4" cy="283.59999999999997" r="0.75" fill="#111"/><rect x="492.9" y="282.4" width="2.2" height="2" fill="#e0e0e0"/><circle cx="494.0" cy="283.59999999999997" r="0.75" fill="#111"/><rect x="495.4" y="282.4" width="2.2" height="2" fill="#e0e0e0"/><circle cx="496.5" cy="283.59999999999997" r="0.75" fill="#111"/><rect x="498.5" y="282.4" width="2.2" height="2" fill="#e0e0e0"/><circle cx="499.6" cy="283.59999999999997" r="0.75" fill="#111"/><rect x="501.09999999999997" y="282.4" width="2.2" height="2" fill="#e0e0e0"/><circle cx="502.2" cy="283.59999999999997" r="0.75" fill="#111"/><rect x="503.4" y="282.4" width="2.2" height="2" fill="#e0e0e0"/><circle cx="504.5" cy="283.59999999999997" r="0.75" fill="#111"/>
<text x="383.80" y="165.20" class="ww">外</text><text x="395.90" y="165.20" class="ww">网</text>
<text x="546.30" y="279.50" class="ww">外</text><text x="558.40" y="279.50" class="ww">网</text>
<text x="460.30" y="365.20" class="ww">外</text><text x="472.40" y="365.20" class="ww">网</text>
<text x="512.50" y="365.20" class="ww">外</text><text x="524.60" y="365.20" class="ww">网</text>

<g>
<clipPath id="mclip"><rect x="457.3" y="177.8" width="91.7" height="68.8"/></clipPath>
<g clip-path="url(#mclip)">
<rect x="457.3" y="177.8" width="91.7" height="68.8" fill="#d4dce2"/>
<rect x="457.3" y="177.8" width="6" height="68.8" fill="#e4e0e1"/>
<rect x="494.5" y="177.8" width="7" height="68.8" fill="#e7e5e5"/>
<polygon points="494.5,177.8 530,177.8 530,192 501.3,182" fill="#e6e4e4"/>
<polygon points="501.3,208 549,222 549,246.6 501.3,246.6" fill="#dadde3"/>

<polygon points="526,177.8 549,177.8 549,246.6 526,246.6" fill="#ccd6de"/>
<path d="M486.5 185.5 l3.5 -1.5 l2 3 l-1 4 l-3.5 0.5z M490 200.5 l3.5 -0.5 l0.5 4 l-3.5 0.5z" fill="#dccdd4" opacity="0.75"/>
<polygon points="457.3,233 490,222 519,227 549,239.5 549,246.6 457.3,246.6" fill="#b5acb1"/>
<polygon points="501.3,179.6 544.6,194.6 544.6,227 501.3,210.4" fill="#0c1329"/>
<path d="M501.3 179.4 L544.6 194.4" stroke="#f6f6f8" stroke-width="1.1"/>
<g transform="matrix(1,0.3488,0,1.03,501.5,180)">
<rect x="8" y="13" width="23" height="17" fill="#172a5e" opacity="0.7"/>
<rect x="13" y="16" width="13" height="13" fill="#21409a" opacity="0.45"/>
<rect x="1.5" y="2" width="1.6" height="1.4" fill="#3a8ae0"/>
<rect x="4.5" y="2.2" width="4" height="0.8" fill="#6a7a9a"/>
<rect x="2" y="6" width="4" height="0.7" fill="#4a5a7a"/>
<rect x="2" y="10" width="5" height="0.7" fill="#4a5a7a"/>
<rect x="2" y="14" width="4" height="0.7" fill="#4a5a7a"/>
<rect x="3" y="18" width="4" height="9" fill="#26324e" opacity="0.9"/>
<rect x="10.1" y="5.8" width="4.4" height="6.8" fill="#e8e0dc"/>
<rect x="11.4" y="7.5" width="1.8" height="3" fill="#a07060" opacity="0.6"/>
<rect x="16.9" y="7.2" width="5.3" height="6.7" fill="#eee2d8"/>
<rect x="18.6" y="9" width="2" height="3" fill="#a87a62" opacity="0.6"/>
<rect x="12.3" y="18.2" width="1" height="8.3" fill="#2a8a4a"/>
<rect x="16.6" y="17.1" width="1.2" height="11" fill="#a83a2e"/>
<rect x="18.8" y="17.5" width="2" height="10" fill="#4a6aa8"/>
<rect x="21.8" y="17.1" width="1.2" height="11.5" fill="#a03a2e"/>
<rect x="25" y="9" width="3.5" height="0.8" fill="#6a7a9a"/>
<rect x="25" y="14" width="2" height="1.2" fill="#2f9a52"/>
<rect x="30.5" y="4.4" width="11" height="13.1" fill="#8c908e"/>
<path d="M31 6 l4 3 l3 -2 l3 5 M32 14 l5 -4 l4 5" stroke="#e4e4e0" stroke-width="1.4" fill="none"/>
<path d="M33 9 l3 5 M38 6 l2 8" stroke="#2a2a2a" stroke-width="0.9" fill="none"/>
<rect x="30.5" y="17.5" width="11" height="10.5" fill="#2d5c64"/>
<rect x="31.5" y="19" width="3.5" height="6" fill="#5aa0a0" opacity="0.8"/>
<rect x="36.5" y="18.5" width="4" height="7" fill="#3a7a8a"/>
<rect x="31.5" y="22.5" width="2" height="2" fill="#c03030"/>
<rect x="30.5" y="27.2" width="11" height="1" fill="#d0d8dc"/>
</g>
<polygon points="479.1,213.9 489.4,208.3 512.2,219.2 502,225 493.4,221" fill="#f6f6f9"/>
<polygon points="498.8,212.5 512.2,219.2 512.2,227.5 498.8,221" fill="#e6e6ef"/>
<polygon points="463,240.2 475,229 493.4,221 512.2,227 520.2,223.7 520.2,226 478.2,246.5" fill="#f7f7fa"/>
<polygon points="503,236 520.2,225 520.2,233.8 511,239" fill="#f0f0f5"/>
<path d="M463 240.2 L478.2 246.5 L520.2 223.7" stroke="#2f60c6" stroke-width="1.1" fill="none"/>
<path d="M479.1 213.9 L493.4 221" stroke="#2f60c6" stroke-width="1.1" fill="none"/>
<path d="M498.8 212.5 L512.2 219.2" stroke="#2f60c6" stroke-width="1" fill="none"/>
<path d="M464.3 240.6 L462.6 246.6" stroke="#2f60c6" stroke-width="2"/>
<rect x="507.5" y="214.5" width="1.3" height="1.5" fill="#e8b050"/>
<rect x="513" y="219.5" width="1.1" height="5" fill="#e8c060"/>
<path d="M463 224 Q465.5 221.5 468 222 L467.5 224 Q465.5 224.5 465.5 227 L467.5 234.5 L466 236 L464.5 234 Q463 229 463 224Z" fill="#d4bd3c"/>
<path d="M464.8 235.5 L467 234 L467.5 237 L465.5 238Z" fill="#222"/>
<path d="M466.3 224 Q467 221.8 470 221.5 L473.5 222 Q475.5 224 476.5 228 L477.5 231.5 L474 233.5 L468.5 234 Q466.5 231 466.3 224Z" fill="#7c7182"/>
<path d="M474 228.5 L479 230.5 L478.5 232 L474 231Z" fill="#7c7182"/>
<path d="M467 232.5 L474.5 232 L475 235.5 L469 237 L467 236Z" fill="#1a2046"/>
<rect x="470.2" y="218.5" width="3" height="3.5" fill="#efcfb6"/>
<circle cx="471.1" cy="216.8" r="3.1" fill="#9a2a24"/>
<path d="M471 219 h3 v2.5 h-2z" fill="#efcfb6"/>
<circle cx="470.3" cy="225.5" r="0.8" fill="#f4f4f4"/>
<polygon points="479.1,225.9 491.6,220.1 491.6,233 480,236.6" fill="#d2d3e4"/>
<path d="M479.1 225.9 L491.6 220.1 M479.1 225.9 L480 236.6" stroke="#5a68b0" stroke-width="0.7"/>
<polygon points="484.5,233 489.9,231 489.9,236.5 484.5,237.8" fill="#1c2450"/>
<polygon points="493.4,222.5 498.5,221.2 499.9,223.5 495,224.8" fill="#141a30"/>
<circle cx="496.1" cy="227.7" r="1.1" fill="#111"/>
<circle cx="492.5" cy="231.2" r="0.9" fill="#2a60b0"/>
<path d="M497 230.5 L499.8 228.8" stroke="#111" stroke-width="1.3"/>
<polygon points="473.8,242.5 477.5,241 479.3,242.6 475.5,244.2" fill="#2a1616"/>
<circle cx="469.5" cy="238.6" r="0.9" fill="#1a2a60"/>
<g transform="translate(462.4,203.4) rotate(-14)"><text x="0" y="0" font-size="6.8" fill="#e2323c" stroke="#e2323c" stroke-width="0.55">监控中心</text></g>
<path d="M461.6 182.6 L465.6 181.4 L466.6 183.6 L462.8 184.9 Z" fill="#1a6fc6"/>
<path d="M466.3 181.3 L471 179.6 L469.6 183 L466.9 184 Z" fill="#1a6fc6"/>
<path d="M465.6 180.6 L466.6 180.2 L467 182.6 L466 183Z" fill="#e8f0f8"/>
<g fill="#3a2a2a" opacity="0.85"><rect x="462" y="185.4" width="2" height="2"/><rect x="465" y="184.7" width="1.8" height="1.9"/><rect x="468" y="184" width="1.6" height="1.9"/></g>
</g>
</g>

</svg>
<div class="foot"></div>

<svg width="940" height="537" viewBox="0 0 940 537" style="position:absolute;left:0;top:0">
<g fill="#fff">
<path d="M48.9 491.2 L59.3 490.2 C63.5 490.8 63.2 497.8 67.2 500.9 L58.4 500.9 C54.3 498.8 54.5 491.8 48.9 491.2Z"/>
<path d="M84.5 491.2 L74.1 490.2 C69.9 490.8 70.2 497.8 66.2 500.9 L75 500.9 C79.1 498.8 78.9 491.8 84.5 491.2Z"/>
<path d="M66.4 493.7 l0.55 1.35 l1.45 0.55 l-1.45 0.55 l-0.55 1.45 l-0.55 -1.45 l-1.45 -0.55 l1.45 -0.55z"/>
</g>
<path d="M54 490.8 C58.6 491.2 58.6 498 62.8 501.2 M79.4 490.8 C74.8 491.2 74.8 498 70.6 501.2" stroke="#132a66" stroke-width="1.05" fill="none"/>
<path d="M61.2 492.2 A5.6 5.6 0 0 1 72.2 492.2" stroke="#fff" stroke-width="1.2" fill="none"/>
<text x="49.9" y="512" font-size="10.1" fill="#fff" stroke="#fff" stroke-width="0.45" letter-spacing="1.75">探天下</text>
<text x="49" y="516.8" font-size="2.9" fill="#dfe3ee" textLength="35" lengthAdjust="spacingAndGlyphs">Exploration of the world</text>
<g fill="#fff">
<path d="M494.1 499.2 Q494 494.2 502.6 494 Q511.2 494.2 511.1 499.2 L511 500.2 H507 L506.6 498.2 H498.6 L498.2 500.2 H494.2Z"/>
<path d="M499 499.5 H506.2 L507.4 501.5 L511 506 V509.8 H494.1 V506 L497.8 501.5Z"/>
<rect x="494.6" y="509.5" width="2.2" height="1" />
<rect x="508.4" y="509.5" width="2.2" height="1" />
</g>
<path d="M494.5 498.2 H510.7" stroke="#142a66" stroke-width="0.7"/>
<circle cx="502.4" cy="505.2" r="2.6" fill="none" stroke="#556090" stroke-width="1.1" stroke-dasharray="1.3 0.7"/>
<path d="M713 492.8 L716 491.8 L719.5 497.8 L717.8 500 Q718.5 503.5 723.5 507.2 L725.8 505.9 L732.2 510.1 L731.6 513.2 Q729.6 515 725.8 513.6 Q714 507.5 710.6 497.5 Q709.9 494.3 713 492.8Z" fill="#fff"/>
<path d="M712.3 494.2 L718.2 499 M725.5 507.9 L731 512.3" stroke="#142a66" stroke-width="0.8"/>
<path d="M721.6 493.6 A6.8 6.8 0 1 1 731.4 503.9" stroke="#fff" stroke-width="1.25" fill="none"/>
<text x="720.3" y="503.2" font-size="9.6" font-weight="bold" fill="#fff" letter-spacing="-0.5">24</text>
</svg>

<div class="slogan">5A高标准，9S高效无忧服务</div>
<div class="ph1">400<span class="d"></span>9988<span class="d"></span>860</div>
<div class="ph2">189<span class="d2"></span>6264<span class="d2"></span>4078</div>
</body></html>
